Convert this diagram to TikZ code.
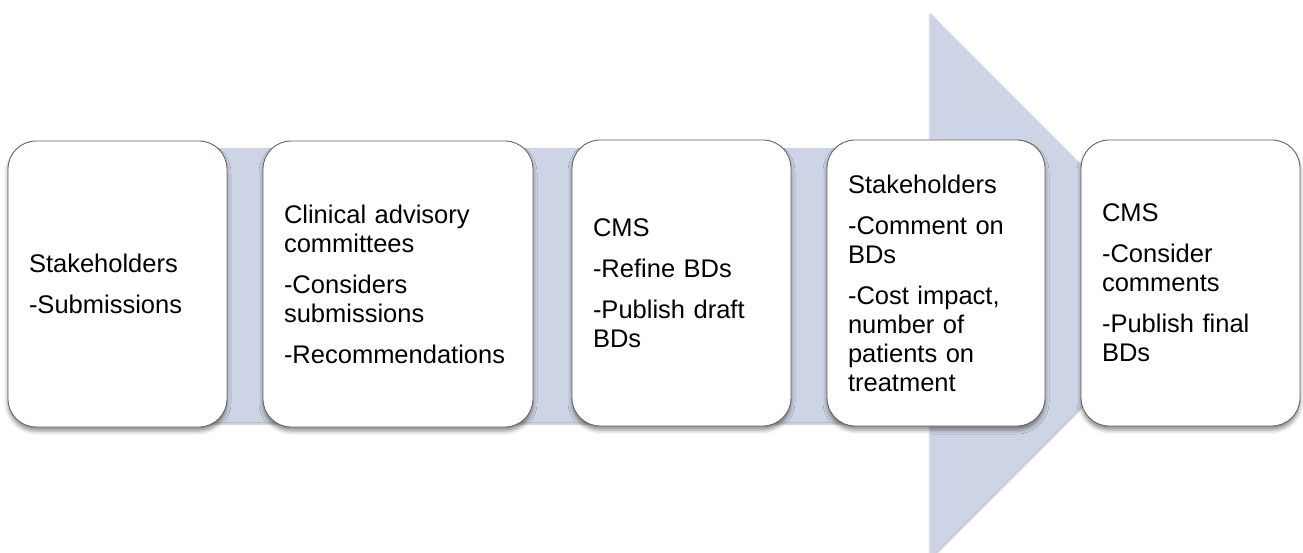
\documentclass[tikz,border=0pt]{standalone}
\usepackage{fontspec}
\setmainfont{Liberation Sans}
\usetikzlibrary{shadows.blur}
\definecolor{flowband}{RGB}{205,212,229}
\definecolor{boxline}{RGB}{100,100,100}
\begin{document}
\begin{tikzpicture}[x=1pt,y=-1pt,
  stage/.style={draw=boxline, line width=0.9pt, fill=white, rounded corners=28pt,
    minimum height=286pt, inner xsep=21pt, inner ysep=0pt, align=left,
    font=\fontsize{25.5}{29}\selectfont,
    blur shadow={shadow xshift=0pt, shadow yshift=-4pt, shadow blur radius=4pt, shadow opacity=45}},
  band/.style={fill=flowband,
    blur shadow={shadow xshift=0pt, shadow yshift=-2pt, shadow blur radius=2pt, shadow opacity=30}}
]
\useasboundingbox (0,0) rectangle (1303,553);

% process arrow behind the stages
\path[band] (30,148) -- (930,148) -- (930,13) -- (1202,285.5) -- (930,558)
  -- (930,422) -- (30,422) -- cycle;

% stages
\node[stage, text width=177pt] (s1) at (117.5,284)
  {Stakeholders\\[12pt]-Submissions};
\node[stage, text width=228pt] (s2) at (398,284)
  {Clinical advisory\\committees\\[12pt]-Considers\\submissions\\[12pt]-Recommendations};
\node[stage, text width=177pt] (s3) at (681.5,283)
  {CMS\\[12pt]-Refine BDs\\[12pt]-Publish draft\\BDs};
\node[stage, text width=176pt] (s4) at (936,283)
  {Stakeholders\\[12pt]-Comment on\\BDs\\[12pt]-Cost impact,\\number of\\patients on\\treatment};
\node[stage, text width=177pt] (s5) at (1190.5,283)
  {CMS\\[12pt]-Consider\\comments\\[12pt]-Publish final\\BDs};
\end{tikzpicture}
\end{document}
